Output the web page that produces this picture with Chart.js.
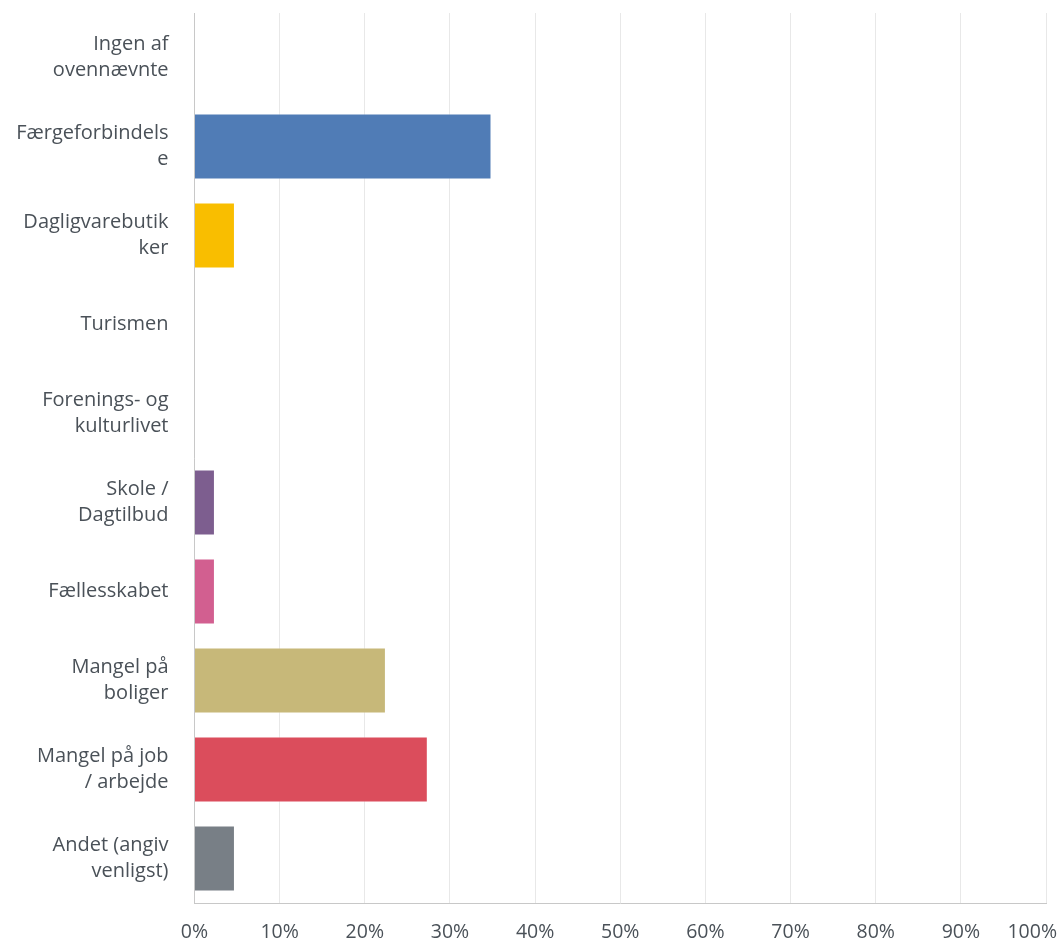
<!DOCTYPE html>
<html>
<head>
<meta charset="utf-8">
<script src="https://cdn.jsdelivr.net/npm/chart.js@4.4.0/dist/chart.umd.min.js"></script>
<style>
  html, body { margin: 0; padding: 0; background: #ffffff; overflow: hidden; }
  #wrap { width: 1061px; height: 941px; position: relative; }
</style>
</head>
<body>
<div id="wrap"><canvas id="c"></canvas></div>
<script>
const categories = [
  ["Ingen af", "ovennævnte"],
  ["Færgeforbindels", "e"],
  ["Dagligvarebutik", "ker"],
  "Turismen",
  ["Forenings- og", "kulturlivet"],
  ["Skole /", "Dagtilbud"],
  "Fællesskabet",
  ["Mangel på", "boliger"],
  ["Mangel på job", "/ arbejde"],
  ["Andet (angiv", "venligst)"]
];
const values = [0, 34.88, 4.75, 0, 0, 2.4, 2.4, 22.48, 27.4, 4.75];
const barColors = ["#6BC8CD", "#507CB6", "#F9BE00", "#FF9B4C", "#96BF6A", "#7D5E8F", "#D25F90", "#C7B879", "#DB4D5C", "#787F86"];
const tickValues = [0, 10, 20, 30, 40, 50, 60, 70, 80, 90, 100];
const tickLabels = ["0%", "10%", "20%", "30%", "40%", "50%", "60%", "70%", "80%", "90%", "100%"];

const FONT = "'Open Sans'";
const TEXT = "#4a5158";

const xLabelPlugin = {
  id: 'xLabels',
  afterDraw(chart) {
    const sx = chart.scales.x;
    const ctx = chart.ctx;
    ctx.save();
    ctx.font = "19.5px " + FONT;
    ctx.fillStyle = TEXT;
    ctx.textBaseline = 'middle';
    ctx.textAlign = 'center';
    tickValues.forEach((v, i) => {
      let x = sx.getPixelForValue(v);
      const w = ctx.measureText(tickLabels[i]).width;
      const maxRight = chart.width - 4;
      if (x + w / 2 > maxRight) x = maxRight - w / 2;
      ctx.fillText(tickLabels[i], x, sx.bottom - 9);
    });
    ctx.restore();
  }
};

new Chart(document.getElementById('c'), {
  type: 'bar',
  data: {
    labels: categories,
    datasets: [{
      data: values,
      backgroundColor: barColors,
      borderColor: "rgba(255,255,255,0.35)",
      borderWidth: 1,
      categoryPercentage: 1,
      barPercentage: 0.74
    }]
  },
  options: {
    indexAxis: 'y',
    responsive: true,
    maintainAspectRatio: false,
    animation: false,
    layout: { padding: { top: 13, right: 15, bottom: 0, left: 0 } },
    plugins: { legend: { display: false }, tooltip: { enabled: false } },
    scales: {
      x: {
        min: 0,
        max: 100,
        ticks: { stepSize: 10, color: 'rgba(0,0,0,0)', font: { family: FONT, size: 18 }, padding: 20 },
        grid: { color: "#e8e8e8", lineWidth: 1, drawTicks: false },
        border: { color: "#c8c8c8", width: 1 },
        afterFit(scale) { scale.height = 38; scale.paddingRight = 0; scale.paddingLeft = 0; }
      },
      y: {
        ticks: { color: TEXT, font: { family: FONT, size: 20, lineHeight: '26px' }, padding: 26 },
        grid: { display: false, drawTicks: false },
        border: { color: "#c8c8c8", width: 1 },
        afterFit(scale) { scale.width = 194.5; scale.paddingTop = 0; scale.paddingBottom = 0; }
      }
    }
  },
  plugins: [xLabelPlugin]
});
</script>
</body>
</html>
